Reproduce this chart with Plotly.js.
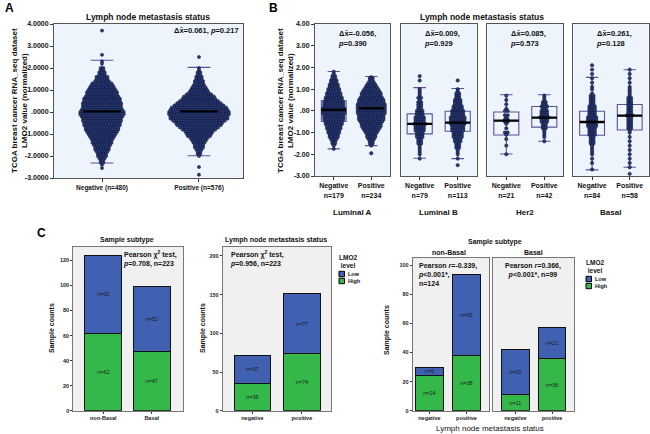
<!DOCTYPE html>
<html><head><meta charset="utf-8">
<script src="https://cdn.plot.ly/plotly-3.0.1.min.js"></script>
<style>html,body{margin:0;padding:0;background:#fff}#chart{width:650px;height:434px}</style>
</head><body><div id="chart"></div>
<script>
// ===== Panel A data (dot-plot rows: value bins and dot counts) =====
const aGroups = ['Negative (n=480)', 'Positive (n=576)'];
const aNegVals = [3.7,2.6,2.3,2.2,2.0,1.9,1.8,1.7,1.6,1.5,1.4,1.3,1.2,1.1,1.0,0.9,0.8,0.7,0.6,0.5,0.4,0.3,0.2,0.1,0.0,-0.1,-0.2,-0.3,-0.4,-0.5,-0.6,-0.7,-0.8,-0.9,-1.0,-1.1,-1.2,-1.3,-1.4,-1.5,-1.6,-1.7,-1.8,-1.9,-2.0,-2.1,-2.2,-2.3,-2.4,-2.55];
const aNegCounts = [1,1,1,1,2,2,3,3,5,5,6,8,9,10,11,12,12,13,14,14,15,15,15,16,17,17,16,15,15,14,14,13,13,12,11,10,9,8,8,7,6,6,5,4,4,3,2,2,1,1];
const aPosVals = [2.5,2.0,1.9,1.8,1.7,1.6,1.5,1.4,1.3,1.2,1.1,1.0,0.9,0.8,0.7,0.6,0.5,0.4,0.3,0.2,0.1,0.0,-0.1,-0.2,-0.3,-0.4,-0.5,-0.6,-0.7,-0.8,-0.9,-1.0,-1.1,-1.2,-1.3,-1.4,-1.5,-1.6,-1.7,-1.8,-1.9,-2.0,-2.5,-2.85];
const aPosCounts = [1,1,1,2,2,3,3,4,4,5,6,7,8,10,12,13,15,17,19,21,22,23,23,22,22,20,18,17,15,13,11,10,9,7,6,5,4,4,3,2,2,1,1,1];
const aQ1 = [-0.6, -0.5];
const aMed = [0.03, 0.03];
const aQ3 = [0.64, 0.52];
const aLo = [-2.32, -1.99];
const aHi = [2.35, 2.03];
const aYTicks = [4,3,2,1,0,-1,-2,-3];
const aYTickText = ['4.0000','3.0000','2.0000','1.0000','.0000','-1.0000','-2.0000','-3.0000'];

// ===== Panel B data =====
const bSubtypes = ['Luminal A','Luminal B','Her2','Basal'];
const bNNeg = [179, 79, 21, 84];
const bNPos = [234, 113, 42, 58];
const bDx = ['-0.056','0.009','0.085','0.261'];
const bP = ['0.390','0.929','0.573','0.128'];
const bQ1Neg = [-0.49,-1.06,-1.11,-1.12];
const bMedNeg = [0.05,-0.6,-0.45,-0.51];
const bQ3Neg = [0.48,-0.14,-0.05,-0.02];
const bLoNeg = [-1.75,-2.18,-1.99,-2.72];
const bHiNeg = [1.81,1.07,0.74,1.54];
const bQ1Pos = [-0.45,-0.94,-0.75,-0.88];
const bMedPos = [0.12,-0.54,-0.31,-0.22];
const bQ3Pos = [0.35,-0.02,0.2,0.29];
const bLoPos = [-1.6,-2.2,-1.4,-2.6];
const bHiPos = [1.58,1.03,0.74,1.89];
const bYTicks = [4,3,2,1,0,-1,-2,-3];
const bYTickText = ['4.00','3.00','2.00','1.00','.00','-1.00','-2.00','-3.00'];

const lumANegVals = [1.8,1.7,1.6,1.5,1.4,1.3,1.2,1.1,1.0,0.9,0.8,0.7,0.6,0.5,0.4,0.3,0.2,0.1,0.0,-0.1,-0.2,-0.3,-0.4,-0.5,-0.6,-0.7,-0.8,-0.9,-1.0,-1.1,-1.2,-1.3,-1.4,-1.5,-1.6,-1.75];
const lumANegCounts = [1,1,2,2,3,3,4,4,5,5,6,6,7,7,8,8,8,9,9,9,8,8,8,7,7,6,6,5,5,4,4,3,2,2,1,1];
const lumAPosVals = [1.55,1.5,1.4,1.3,1.2,1.1,1.0,0.9,0.8,0.7,0.6,0.5,0.4,0.3,0.2,0.1,0.0,-0.1,-0.2,-0.3,-0.4,-0.5,-0.6,-0.7,-0.8,-0.9,-1.0,-1.1,-1.2,-1.3,-1.4,-1.5,-1.6,-1.95];
const lumAPosCounts = [1,2,2,3,4,5,6,7,8,8,9,10,10,11,11,11,11,11,10,10,10,9,8,8,7,6,5,4,4,3,2,2,1,1];
const lumBNegVals = [1.6,1.4,1.0,0.9,0.8,0.7,0.6,0.5,0.4,0.3,0.2,0.1,0.0,-0.1,-0.2,-0.3,-0.4,-0.5,-0.6,-0.7,-0.8,-0.9,-1.0,-1.1,-1.2,-1.3,-1.4,-1.5,-1.6,-1.7,-1.8,-1.9,-2.0,-2.2];
const lumBNegCounts = [1,1,1,1,1,1,2,1,2,2,2,2,3,3,3,4,4,4,5,4,4,4,3,3,3,2,2,2,1,1,1,1,1,1];
const lumBPosVals = [1.4,1.0,0.9,0.8,0.7,0.6,0.5,0.4,0.3,0.2,0.1,0.0,-0.1,-0.2,-0.3,-0.4,-0.5,-0.6,-0.7,-0.8,-0.9,-1.0,-1.1,-1.2,-1.3,-1.4,-1.5,-1.6,-1.7,-1.8,-1.9,-2.0,-2.2,-2.5];
const lumBPosCounts = [1,1,1,2,2,2,3,3,3,4,4,5,5,5,6,6,6,6,5,5,5,4,4,4,3,3,2,2,2,1,1,1,1,1];
const her2NegVals = [0.7,0.5,0.3,0.1,0.0,-0.2,-0.3,-0.4,-0.5,-0.6,-0.8,-1.0,-1.1,-1.3,-1.6,-2.0];
const her2NegCounts = [1,1,1,1,2,2,1,2,2,1,1,2,1,1,1,1];
const her2PosVals = [0.7,0.6,0.5,0.4,0.3,0.2,0.1,0.0,-0.1,-0.2,-0.3,-0.4,-0.5,-0.6,-0.7,-0.8,-0.9,-1.0,-1.1,-1.2,-1.4];
const her2PosCounts = [1,1,1,2,2,3,2,3,3,3,4,3,3,2,2,2,1,1,1,1,1];
const basalNegVals = [2.1,1.9,1.7,1.5,1.3,1.1,1.0,0.8,0.7,0.6,0.5,0.4,0.3,0.2,0.1,0.0,-0.1,-0.2,-0.3,-0.4,-0.5,-0.6,-0.7,-0.8,-0.9,-1.0,-1.1,-1.2,-1.3,-1.4,-1.5,-1.6,-1.7,-1.8,-1.9,-2.0,-2.2,-2.4,-2.7];
const basalNegCounts = [1,1,1,1,1,1,1,1,2,2,2,2,2,3,3,3,3,3,4,4,4,4,4,3,3,3,3,2,2,2,2,1,1,1,1,1,1,1,1];
const basalPosVals = [1.9,1.7,1.5,1.3,1.1,1.0,0.9,0.8,0.7,0.6,0.5,0.4,0.3,0.2,0.1,0.0,-0.1,-0.2,-0.3,-0.4,-0.5,-0.6,-0.7,-0.8,-0.9,-1.0,-1.2,-1.4,-1.6,-1.8,-2.0,-2.2,-2.4,-2.6,-2.9];
const basalPosCounts = [1,1,1,1,1,1,1,1,1,2,2,2,2,2,2,2,2,3,2,2,2,2,2,2,1,1,1,1,1,1,1,1,1,1,1];

// ===== Panel C data =====
const c1Cats = ['non-Basal','Basal'];
const c1High = [62, 47];
const c1Low = [62, 52];
const c2Cats = ['negative','positive'];
const c2High = [35, 74];
const c2Low = [37, 77];
const c3Cats = ['negative','positive'];
const c3NonBasalHigh = [24, 38];
const c3NonBasalLow = [6, 56];
const c3BasalHigh = [11, 36];
const c3BasalLow = [31, 21];

// ===== helpers =====
const W = 650, H = 434;
const px = v => v / W;
const py = v => 1 - v / H;
const FONT = 'Liberation Sans, Arial, sans-serif';
const DOT = '#2a3c78', BOXC = '#5b519c', LOWC = '#4060b2', HIGHC = '#35b84a';

function swarm(vals, counts, center, sp) {
  const x = [], y = [];
  vals.forEach((v, i) => {
    const c = counts[i];
    for (let k = 0; k < c; k++) { x.push(center + (k - (c - 1) / 2) * sp); y.push(v); }
  });
  return { x, y };
}

const traces = [];
function addDots(vals, counts, center, sp, xa, ya, size) {
  const s = swarm(vals, counts, center, sp);
  traces.push({ type: 'scatter', mode: 'markers', x: s.x, y: s.y, xaxis: xa, yaxis: ya,
    marker: { size: size, color: DOT, line: { width: 0.5, color: '#0a1130' } }, hoverinfo: 'skip' });
}
function addBox(center, q1, med, q3, lo, hi, w, ww, xa, ya) {
  traces.push({ type: 'box', x: [center], q1: [q1], median: [med], q3: [q3], lowerfence: [lo], upperfence: [hi],
    width: w, whiskerwidth: ww, boxpoints: false, fillcolor: 'rgba(0,0,0,0)',
    line: { color: BOXC, width: 1.1 }, xaxis: xa, yaxis: ya, hoverinfo: 'skip' });
  traces.push({ type: 'scatter', mode: 'lines', x: [center - w / 2, center + w / 2], y: [med, med],
    line: { color: '#000', width: 2.4 }, xaxis: xa, yaxis: ya, hoverinfo: 'skip' });
}

// Panel A
addDots(aNegVals, aNegCounts, 0, 0.028, 'x', 'y', 3.2);
addDots(aPosVals, aPosCounts, 1, 0.028, 'x', 'y', 3.2);
[0, 1].forEach(i => addBox(i, aQ1[i], aMed[i], aQ3[i], aLo[i], aHi[i], 0.39, 0.6, 'x', 'y'));

// Panel B
const bNegVals = [lumANegVals, lumBNegVals, her2NegVals, basalNegVals];
const bNegCounts = [lumANegCounts, lumBNegCounts, her2NegCounts, basalNegCounts];
const bPosVals = [lumAPosVals, lumBPosVals, her2PosVals, basalPosVals];
const bPosCounts = [lumAPosCounts, lumBPosCounts, her2PosCounts, basalPosCounts];
for (let i = 0; i < 4; i++) {
  const xa = 'x' + (i + 2), ya = 'y' + (i + 2);
  addDots(bNegVals[i], bNegCounts[i], 0, 0.072, xa, ya, 3.4);
  addDots(bPosVals[i], bPosCounts[i], 1, 0.072, xa, ya, 3.4);
  addBox(0, bQ1Neg[i], bMedNeg[i], bQ3Neg[i], bLoNeg[i], bHiNeg[i], 0.66, 0.5, xa, ya);
  addBox(1, bQ1Pos[i], bMedPos[i], bQ3Pos[i], bLoPos[i], bHiPos[i], 0.66, 0.5, xa, ya);
}

// Panel C bars
function addBars(cats, high, low, xa, ya, w) {
  const common = { type: 'bar', x: cats, xaxis: xa, yaxis: ya, width: w, textposition: 'inside',
    insidetextanchor: 'middle', constraintext: 'none', textangle: 0,
    textfont: { size: 5.5, color: '#1a1a1a', family: FONT }, hoverinfo: 'skip', showlegend: false };
  traces.push(Object.assign({}, common, { y: high, text: high.map(v => 'n=' + v),
    marker: { color: HIGHC, line: { color: '#111', width: 1 } } }));
  traces.push(Object.assign({}, common, { y: low, text: low.map(v => 'n=' + v),
    marker: { color: LOWC, line: { color: '#111', width: 1 } } }));
}
addBars(c1Cats, c1High, c1Low, 'x6', 'y6', 0.76);
addBars(c2Cats, c2High, c2Low, 'x7', 'y7', 0.74);
addBars(c3Cats, c3NonBasalHigh, c3NonBasalLow, 'x8', 'y8', 0.75);
addBars(c3Cats, c3BasalHigh, c3BasalLow, 'x9', 'y9', 0.75);

// ===== axes =====
function ax(dom, extra) {
  return Object.assign({ domain: dom, showgrid: false, zeroline: false, showline: true, linecolor: '#555',
    linewidth: 1, mirror: true, ticks: 'outside', ticklen: 3, tickcolor: '#333', fixedrange: true,
    tickfont: { size: 7, color: '#111', family: FONT, weight: 'bold' } }, extra);
}
const cTick = { size: 5.5, family: FONT, weight: 'bold', color: '#222' };
const abY = [py(178), py(24)];
const bY = [py(176), py(24)];
const cY = [py(410.7), py(246.7)];
const c3Y = [py(410.7), py(258)];
const layout = {
  width: W, height: H, margin: { l: 0, r: 0, t: 0, b: 0 }, paper_bgcolor: '#fff', plot_bgcolor: 'rgba(0,0,0,0)',
  showlegend: false, barmode: 'stack', font: { family: FONT, color: '#111' },
  xaxis: ax([px(54), px(243)], { anchor: 'y', range: [-0.495, 1.454], tickvals: [0, 1], ticktext: aGroups, tickfont: { size: 6.5, family: FONT, weight: 'bold', color: '#111' } }),
  yaxis: ax(abY, { anchor: 'x', range: [-3, 4], tickvals: aYTicks, ticktext: aYTickText }),
  xaxis6: ax([px(73.3), px(182.7)], { anchor: 'y6', type: 'category', range: [-0.62, 1.64], ticklen: 2, tickfont: cTick, linecolor: '#777' }),
  yaxis6: ax(cY, { anchor: 'x6', range: [0, 131], dtick: 20, ticklen: 2, tickfont: cTick, linecolor: '#777' }),
  xaxis7: ax([px(222.7), px(331)], { anchor: 'y7', type: 'category', range: [-0.6, 1.59], ticklen: 2, tickfont: cTick, linecolor: '#777' }),
  yaxis7: ax(cY, { anchor: 'x7', range: [0, 212], dtick: 50, ticklen: 2, tickfont: cTick, linecolor: '#777' }),
  xaxis8: ax([px(412.7), px(489)], { anchor: 'y8', type: 'category', range: [-0.45, 1.61], ticklen: 2, tickfont: cTick, linecolor: '#777' }),
  yaxis8: ax(c3Y, { anchor: 'x8', range: [0, 105], dtick: 20, ticklen: 2, tickfont: cTick, linecolor: '#777' }),
  xaxis9: ax([px(492.7), px(574)], { anchor: 'y9', type: 'category', range: [-0.62, 1.6], ticklen: 2, tickfont: cTick, linecolor: '#777' }),
  yaxis9: ax(c3Y, { anchor: 'x9', range: [0, 105], ticks: '', showticklabels: false, linecolor: '#777' }),
  shapes: [], annotations: []
};
const bXDom = [[315, 390], [400.7, 476.7], [487.3, 563.3], [573.3, 648.5]];
for (let i = 0; i < 4; i++) {
  const n = i + 2;
  layout['xaxis' + n] = ax([px(bXDom[i][0]), px(bXDom[i][1])], { anchor: 'y' + n, range: [-0.5, 1.5], tickvals: [0, 1],
    ticktext: ['Negative<br>n=' + bNNeg[i], 'Positive<br>n=' + bNPos[i]] });
  layout['yaxis' + n] = ax(bY, { anchor: 'x' + n, range: [-3, 4], tickvals: bYTicks, ticktext: bYTickText,
    showticklabels: i === 0, ticks: i === 0 ? 'outside' : '' });
}
// panel backgrounds
const bgs = [['x', 'y', '#eef4fb'], ['x2', 'y2', '#eef4fb'], ['x3', 'y3', '#eef4fb'], ['x4', 'y4', '#eef4fb'], ['x5', 'y5', '#eef4fb'],
  ['x6', 'y6', '#f0f0f0'], ['x7', 'y7', '#f0f0f0'], ['x8', 'y8', '#f0f0f0'], ['x9', 'y9', '#f0f0f0']];
bgs.forEach(b => layout.shapes.push({ type: 'rect', xref: b[0] + ' domain', yref: b[1] + ' domain', x0: 0, x1: 1, y0: 0, y1: 1,
  fillcolor: b[2], line: { width: 0 }, layer: 'below' }));

// ===== annotations =====
function ann(text, x, y, o) {
  layout.annotations.push(Object.assign({ text: text, x: px(x), y: py(y), xref: 'paper', yref: 'paper', showarrow: false,
    xanchor: 'center', yanchor: 'middle', font: { size: 7, family: FONT, color: '#111', weight: 'bold' } }, o || {}));
}
const bold = (s, c) => ({ size: s, family: FONT, color: c || '#111', weight: 'bold' });
ann('A', 3, 8, { xanchor: 'left', font: bold(12, '#000') });
ann('B', 267, 8, { xanchor: 'left', font: bold(12, '#000') });
ann('C', 35, 233, { xanchor: 'left', font: bold(12, '#000') });
ann('Lymph node metastasis status', 148, 17, { font: bold(8.5) });
ann('Δx\u0304=0.061, <i>p</i>=0.217', 241, 31, { xanchor: 'right', font: bold(7.5) });
ann('TCGA breast cancer RNA_seq dataset<br>LMO2 value (normalized)', 19, 101, { textangle: -90, font: bold(8) });
ann('Lymph node metastasis status', 482, 17, { font: bold(8.5) });
ann('TCGA breast cancer RNA_seq dataset<br>LMO2 value (normalized)', 285, 101, { textangle: -90, font: bold(8) });
for (let i = 0; i < 4; i++) {
  ann('Δx\u0304=' + bDx[i] + ',<br><i>p</i>=' + bP[i], bXDom[i][0] + 21, 27, { xanchor: 'left', yanchor: 'top', align: 'left', font: bold(7.5) });
  ann(bSubtypes[i], (bXDom[i][0] + bXDom[i][1]) / 2, 212, { font: bold(8) });
}
// C1
ann('Sample subtype', 127, 240, { font: bold(7) });
ann('Pearson χ<sup>2</sup> test,<br><i>p</i>=0.708, n=223', 179, 248, { xanchor: 'right', yanchor: 'top', align: 'left', font: bold(7) });
ann('Sample counts', 52, 328, { textangle: -90, font: bold(7) });
// C2
ann('Lymph node metastasis status', 276, 240, { font: bold(7) });
ann('Pearson χ<sup>2</sup> test,<br><i>p</i>=0.956, n=223', 228, 248, { xanchor: 'left', yanchor: 'top', align: 'left', font: bold(7) });
ann('Sample counts', 203, 328, { textangle: -90, font: bold(7) });
// C3
ann('Sample subtype', 495, 242, { font: bold(7) });
ann('non-Basal', 449, 252, { font: bold(7) });
ann('Basal', 533, 252, { font: bold(7) });
ann('Pearson <i>r</i>=-0.339,<br><i>p</i><0.001*,<br>n=124', 416, 260, { xanchor: 'left', yanchor: 'top', align: 'left', font: bold(7) });
ann('Pearson <i>r</i>=0.366,<br><i>p</i><0.001*, n=99', 533, 260, { yanchor: 'top', align: 'center', font: bold(7) });
ann('Sample counts', 387, 330, { textangle: -90, font: bold(7) });
ann('Lymph node metastasis status', 490, 428, { font: { size: 8, family: FONT, color: '#111' } });
// legend keys (paper-positioned squares + labels)
function legend(x, y) {
  ann('LMO2<br>level', x + 6, y, { font: bold(6.5) });
  [[LOWC, 'Low', 13], [HIGHC, 'High', 20]].forEach(k => {
    layout.shapes.push({ type: 'rect', xref: 'paper', yref: 'paper', x0: px(x - 3), x1: px(x + 2.5),
      y0: py(y + k[2] + 2.7), y1: py(y + k[2] - 2.7), fillcolor: k[0], line: { color: '#000', width: 1 } });
    ann(k[1], x + 4, y + k[2], { xanchor: 'left', font: bold(5.5) });
  });
}
legend(342, 261);
legend(589, 266);

Plotly.newPlot('chart', traces, layout, { staticPlot: true, displayModeBar: false });
</script></body></html>
